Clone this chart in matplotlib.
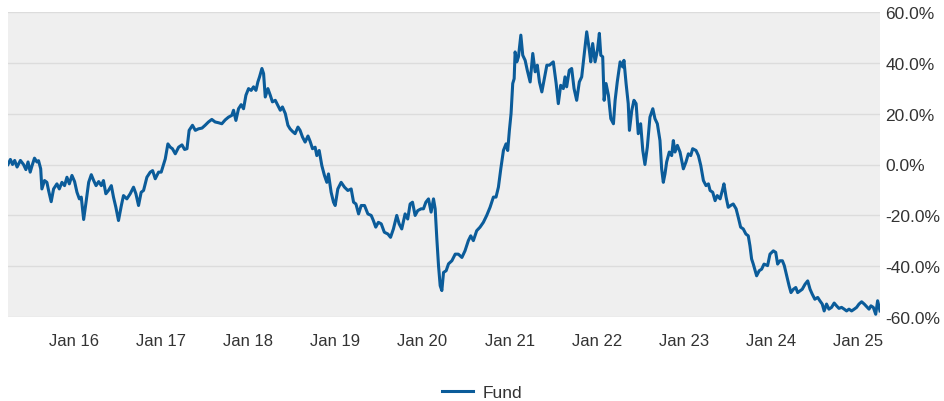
import matplotlib
matplotlib.use("Agg")
import matplotlib.pyplot as plt
import matplotlib.dates as mdates
import matplotlib.ticker as mticker
import pandas as pd

plt.rcParams["font.family"] = ["Liberation Sans", "DejaVu Sans"]

# cumulative fund return (%), sampled by days since 2015-04-01
start = "2015-04-01"
days = [
    0, 10, 19, 28, 38, 52, 65, 75, 84, 93, 101, 111, 121, 128, 137, 142, 153, 163, 170, 181,
    191, 205, 215, 226, 237, 247, 257, 268, 279, 289, 299, 307, 317, 327, 338, 349, 359, 369, 380, 391,
    400, 410, 421, 433, 442, 452, 463,
    475, 484, 498, 512, 526, 536, 547, 558, 568, 582, 596, 606, 617, 631, 642, 652, 659, 670, 680, 689,
    701, 715, 729, 740, 750, 759, 773, 785, 798, 813, 826, 840, 854, 868, 882, 896, 910,
    924, 938, 945, 955, 966, 977, 987, 997, 1008, 1019, 1029, 1039, 1047, 1054, 1064, 1071, 1078, 1089,
    1099, 1108, 1120, 1131, 1141, 1150, 1162, 1173, 1182, 1192, 1203, 1215, 1224, 1234, 1245, 1257, 1266,
    1276, 1287, 1294, 1304, 1315, 1326, 1336, 1343, 1354, 1364, 1371,
    1382, 1396, 1410, 1424, 1438, 1448, 1458, 1469, 1480, 1494, 1508, 1522, 1531, 1541, 1552, 1564, 1577,
    1592, 1603, 1615, 1629, 1639, 1650, 1664, 1675, 1685, 1695, 1706, 1717, 1731, 1741, 1751, 1762, 1773,
    1783, 1790, 1797, 1804, 1811, 1818, 1825, 1836, 1846,
    1860, 1874, 1887, 1902, 1915, 1929, 1939, 1950, 1964, 1978, 1992, 2006, 2020, 2034, 2045, 2055, 2065,
    2076, 2087, 2094, 2101, 2108, 2115, 2121, 2125, 2132, 2139, 2149, 2157, 2167, 2176, 2188, 2199, 2209,
    2218, 2227, 2237, 2246, 2258, 2269,
    2285, 2297, 2306, 2316, 2327, 2334, 2341, 2352, 2362, 2372, 2383, 2394, 2404, 2414, 2425, 2436, 2442,
    2450, 2460, 2470, 2478, 2484, 2492, 2498, 2506, 2516, 2526, 2537, 2544, 2553, 2565, 2576, 2581, 2590,
    2599, 2604, 2614, 2623, 2632, 2641, 2651, 2660, 2669, 2679, 2690, 2702, 2711, 2721, 2732,
    2739, 2746, 2753, 2760, 2771, 2781, 2788, 2795, 2805, 2816, 2830, 2841, 2851, 2861, 2869, 2883, 2893,
    2903, 2914, 2925, 2935, 2942, 2953, 2963, 2972, 2984, 2995, 3000, 3009, 3018, 3028, 3039, 3051, 3060,
    3070, 3081, 3092, 3102, 3109, 3116, 3123, 3137, 3148, 3158, 3168,
    3183, 3193, 3207, 3217, 3225, 3235, 3245, 3253, 3263, 3273, 3281, 3291, 3301, 3309, 3319, 3328, 3340,
    3351, 3361, 3370, 3381, 3393, 3402, 3412, 3420, 3430, 3440, 3451, 3462, 3472, 3482, 3493, 3504, 3514,
    3524, 3535, 3546, 3556, 3566, 3577, 3588, 3598, 3608, 3616, 3626, 3636, 3644, 3654,
]
fund = [
    0, 2, 0, 1.6, -1, 1.6, 0, -2, 1, -3, -0.4, 2.5, 1, 1.5, -1.7, -9.6, -6.3, -7, -10.2, -14.6,
    -9.6, -7.6, -9.6, -7, -8.3, -5, -7.6, -4.3, -6.7, -10.9, -13.5, -12.8, -21.6, -14.8, -7, -4, -6.3, -8.3, -6.7, -8.3,
    -6.3, -11.5, -10.2, -8.3, -12.8, -16.8, -22,
    -16.1, -12.2, -13.5, -11.5, -8.9, -11.5, -16.1, -10.9, -10.2, -5, -3, -2.4, -5.6, -3, -3, 0, 2.2, 8.1, 6.8, 6.2,
    4.2, 6.8, 7.7, 5.9, 6.2, 13.4, 15.4, 13.4, 14, 14.3, 15.4, 16.7, 17.7, 16.7, 16.4, 16, 17.5,
    18.6, 19.3, 21.3, 17.3, 21.9, 23.5, 21.9, 27.2, 29.8, 29.1, 30.5, 29.1, 32.4, 34.4, 37.7, 35.7, 26.5, 29.8,
    27.2, 24.6, 25.2, 23.2, 21.3, 22.6, 20, 15.4, 14, 13, 12.1, 14.7, 13.4, 10.8, 8.8, 11.2, 9.1,
    6.2, 6.8, 3.5, 5.5, -0.4, -4.3, -7, -3.7, -10.9, -14.8, -16.1,
    -9.6, -7, -8.9, -10.2, -9.6, -14.8, -15.5, -19.4, -16.1, -16.1, -19.4, -20, -22, -24.6, -22.7, -23.3, -26.6,
    -27.3, -28.6, -25.3, -20, -23.3, -25.3, -19.4, -21.4, -15.5, -14.8, -20, -18.1, -17.4, -17.4, -14.8, -13.5, -18.7,
    -13.5, -17.4, -29.2, -39.7, -47.6, -49.5, -42.4, -41.7, -39,
    -37.8, -35.2, -35.2, -36.5, -33.9, -29.9, -28, -29.9, -26, -24.6, -22.7, -20, -16.8, -12.8, -12.8, -8.9, -1.7,
    5.5, 8.1, 5.5, 13.4, 20, 31.8, 33.7, 44.2, 40.3, 42.3, 50.8, 42.9, 40.9, 37, 32.4, 43.6, 36.4,
    39, 32.4, 28.5, 33.1, 39, 39,
    40.3, 31.8, 23.9, 31.1, 29.8, 34.4, 30.5, 37, 37.7, 29.8, 25.2, 32.4, 34.4, 42.9, 52.1, 44.9, 40.3,
    47.5, 40.3, 44.9, 51.5, 42.9, 42.3, 25.2, 31.8, 27.2, 18, 16, 25.2, 32.4, 40.3, 38.3, 40.9, 31.8,
    23.9, 13.4, 21.3, 25.2, 23.9, 12.1, 16, 5.5, 0, 6.8, 18.6, 21.9, 18, 16, 9.4,
    -1.7, -7, -3.7, 1, 4.9, 3.5, 9.4, 4.9, 7.5, 4.9, -1.7, 1, 4.2, 3.5, 6.2, 5.5, 3.5,
    -0.4, -6.3, -8.3, -7.6, -10.2, -10.9, -14.2, -12.2, -13.5, -9.6, -7.6, -12.8, -16.8, -16.1, -15.5, -17.4, -20.7,
    -24.6, -25.3, -27.3, -28, -31.9, -37.1, -39.1, -43.7, -41.7, -41.1, -39.1,
    -39.7, -35.2, -33.9, -34.5, -39.1, -37.8, -37.8, -39.7, -43.7, -47.6, -50.3, -49, -48.3, -50.3, -49.6, -49, -47,
    -45.7, -49, -50.9, -52.9, -52.2, -53.5, -54.8, -57.5, -54.8, -56.8, -56.1, -54.4, -55.5, -56.5, -56.1, -56.8, -57.5,
    -56.8, -57.5, -56.8, -56.1, -54.8, -53.9, -54.8, -55.8, -56.8, -55.5, -56.1, -58.8, -53.5, -57.5,
]
y_ticks = [-60, -40, -20, 0, 20, 40, 60]

dates = pd.Timestamp(start) + pd.to_timedelta(days, unit="D")

LINE = "#0b5c9a"
TEXT = "#333333"

fig = plt.figure(figsize=(9.45, 4.02), dpi=100)
ax = fig.add_axes([8 / 945, 83.7 / 402, 872 / 945, 305.6 / 402])
ax.set_facecolor("#efefef")
ax.plot(dates, fund, color=LINE, lw=2.2, label="Fund", solid_joinstyle="round")

ax.set_xlim(dates[0], dates[-1])
ax.set_ylim(-60, 60)
ax.set_yticks(y_ticks)
ax.yaxis.set_major_formatter(mticker.FuncFormatter(lambda v, _: f"{v:.1f}%"))
ax.yaxis.tick_right()
ax.xaxis.set_major_locator(mdates.YearLocator())
ax.xaxis.set_major_formatter(mdates.DateFormatter("%b %y"))
ax.grid(axis="y", color="#dcdcdc", lw=1)
ax.set_axisbelow(True)
for s in ax.spines.values():
    s.set_visible(False)
ax.tick_params(axis="y", length=0, pad=4, labelsize=12.5, labelcolor=TEXT)
ax.tick_params(axis="x", length=0, pad=11, labelsize=12, labelcolor=TEXT)

fig.legend(loc="center", bbox_to_anchor=(482 / 945, 9 / 402), frameon=False,
           fontsize=12.5, handlelength=1.8, handletextpad=0.5, labelcolor=TEXT)

fig.savefig("out.png", dpi=100)
